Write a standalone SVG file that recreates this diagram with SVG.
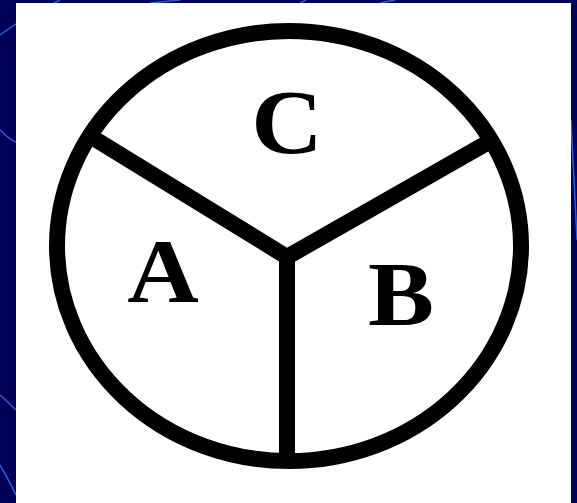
<svg xmlns="http://www.w3.org/2000/svg" width="577" height="503" viewBox="0 0 577 503">
<style>
.bgline{fill:none;stroke:#2a5fd8;stroke-width:1.5}
.ink{fill:none;stroke:#000;stroke-width:16;stroke-linejoin:miter}
.lbl{font-family:"Liberation Serif","Times New Roman",serif;font-weight:bold;font-size:90px;fill:#000;text-anchor:middle}
</style>
<rect x="0" y="0" width="577" height="503" fill="#000058"/>
<g id="background-lines">
<path class="bgline" d="M0,35 C20,20 40,10 60,0"/>
<path class="bgline" d="M0,130 C5,135 10,140 16,142"/>
<path class="bgline" d="M0,395 C6,400 11,405 16,410"/>
<path class="bgline" d="M0,465 C6,475 11,485 16,495"/>
<path class="bgline" d="M150,3 C160,2 170,1 180,0"/>
<path class="bgline" d="M300,3 C302,2 304,1 306,0"/>
<path class="bgline" d="M380,3 C385,2 390,1 395,0"/>
<path class="bgline" d="M571,120 C573,160 575,200 577,240"/>
</g>
<rect id="panel" x="16" y="3" width="555" height="500" fill="#fff"/>
<g id="circle">
<ellipse class="ink" cx="289" cy="246" rx="232" ry="215"/>
</g>
<g id="connectors">
<polyline class="ink" points="90,136 287,257 487,143"/>
<line class="ink" x1="287" y1="257" x2="287" y2="461"/>
</g>
<g id="label-C"><text class="lbl" transform="translate(287,153) scale(1.1,1)">C</text></g>
<g id="label-A"><text class="lbl" transform="translate(163,302) scale(1.1,1)">A</text></g>
<g id="label-B"><text class="lbl" transform="translate(401,325) scale(1.1,1)">B</text></g>
</svg>
